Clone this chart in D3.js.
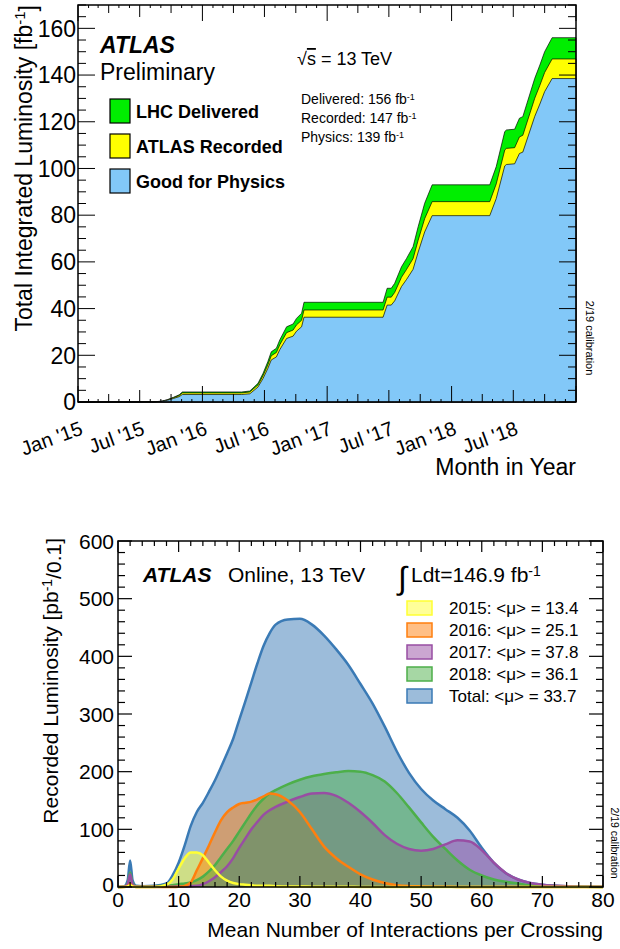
<!DOCTYPE html>
<html>
<head>
<meta charset="utf-8">
<script src="https://cdn.jsdelivr.net/npm/d3@7"></script>
<style>
  body { margin: 0; background: #fff; }
  svg { display: block; }
  text { font-family: "Liberation Sans", Arial, Helvetica, sans-serif; fill: #000; }
</style>
</head>
<body>
<svg id="chart" width="620" height="949"></svg>
<script>
// ---- top panel: cumulative luminosity vs date
const lumiDates = ['2015-01-01','2015-06-03','2015-08-15','2015-09-05','2015-09-20','2015-10-08','2015-10-25','2015-11-03',
  '2016-04-25','2016-05-19','2016-06-12','2016-06-27','2016-07-11','2016-07-21','2016-08-05','2016-08-15','2016-09-04','2016-09-23','2016-10-03','2016-10-18','2016-10-25',
  '2017-06-14','2017-06-26','2017-07-08','2017-07-18','2017-08-07','2017-08-22','2017-09-10','2017-09-25','2017-10-14','2017-11-05',
  '2018-04-23','2018-05-12','2018-06-06','2018-06-11','2018-07-05','2018-07-19','2018-07-29','2018-09-02','2018-09-17','2018-10-01','2018-10-23',
  '2019-01-01'];
const delivered = [0,0,0.1,0.4,1.0,2.0,3.1,4.3,
  4.3,4.7,8.0,12.3,17.3,21.5,23.0,26.6,32.2,33.4,35.8,38.0,42.7,
  42.7,48.7,48.7,50.8,57.9,61.5,66.5,75.1,85.1,93.0,
  93.0,100.8,115.8,116.5,116.8,121.5,122.2,138.6,144.3,150.0,156.0,
  156.0];
const recorded = [0,0,0.1,0.35,0.9,1.8,2.8,3.9,
  3.9,4.3,7.3,11.3,15.9,19.8,21.2,24.5,29.7,30.8,33.0,35.0,39.4,
  39.4,44.9,44.9,46.9,53.4,56.8,61.4,69.3,78.5,85.8,
  85.8,93.4,107.9,108.6,108.9,113.5,114.2,130.1,135.6,141.1,146.9,
  146.9];
const physics = [0,0,0.05,0.3,0.7,1.5,2.3,3.2,
  3.2,3.5,6.4,10.1,14.4,18.0,19.3,22.4,27.2,28.2,30.3,32.2,36.3,
  36.3,41.5,41.5,43.3,49.4,52.5,56.8,64.2,72.8,79.8,
  79.8,87.1,101.1,101.7,102.0,106.4,107.0,122.3,127.6,132.9,138.5,
  138.5];
const lumiLegend = ['LHC Delivered','ATLAS Recorded','Good for Physics'];
const lumiTotals = ['Delivered: 156','Recorded: 147','Physics: 139'];

// ---- bottom panel: pile-up distributions
const muBins = [0,1,1.6,2,2.4,3,4,6,8,
  9,10,11,12,13,14,15,16,17,18,19,20,21,22,23,24,25,26,
  28,30,32,34,36,38,40,42,44,46,48,50,52,54,56,58,60,62,64,66,68,70,74,80];
const muTotal = [0,1,12,46,12,2,1.5,2,6,
  20,42,72,106,130,146,165,185,208,232,257,290,322,355,388,418,440,455,
  464,465,455,436,412,385,352,318,278,235,198,170,150,135,120,98,68,42,24,13,7,4,1.5,0.5];
const mu2015 = [0,0,1,3,1,0,0,0,4,
  13,32,50,60,60,55,42,29,18,11,7,5,4,3,2,2,2,1.5,
  1,1,0.5,0.5,0.3,0.3,0.2,0.2,0.1,0.1,0,0,0,0,0,0,0,0,0,0,0,0,0,0];
const mu2016 = [0,0,1,5,1,0,0,0,0,
  0,0.5,2,8,29,50,72,95,116,130,138,144,146,148,152,157,162,161,
  150,130,100,70,50,35,22,13,7,3,1.5,1,0.5,0.3,0.2,0,0,0,0,0,0,0,0,0];
const mu2017 = [0,0.3,5,22,5,0.5,0.3,0.5,0.5,
  0.5,1,1,1.5,2,5,10,17,26,36,50,68,84,100,113,125,133,139,
  148,156,162,163,158,146,130,111,90,75,66,63,66,74,81,79,64,42,24,13,7,4,1.5,0.3];
const mu2018 = [0,0.5,6,25,6,1,1,1.5,2,
  3,5,6,8,12,18,27,38,52,66,80,96,112,128,142,153,162,168,
  178,186,192,196,199,201,200,194,183,163,138,112,87,66,46,30,20,13,9,6,3,2,1,0.2];
const muLegend = ['2015: <μ> = 13.4','2016: <μ> = 25.1','2017: <μ> = 37.8','2018: <μ> = 36.1','Total: <μ> = 33.7'];

let svg = d3.select('#chart');
let parseDate = d3.timeParse('%Y-%m-%d');

// =================== TOP PANEL ===================
let f1 = { left: 78, right: 576, top: 5, bottom: 402 };
let xT = d3.scaleTime()
  .domain([new Date(2015,0,1), new Date(2019,0,1)])
  .range([f1.left, f1.right]);
let yT = d3.scaleLinear().domain([0,170]).range([f1.bottom, f1.top]);

let lumiRows = lumiDates.map((d,i) => ({
  date: parseDate(d), del: delivered[i], rec: recorded[i], phys: physics[i]
}));

let layers = [
  { key: 'del', color: '#00ee00' },
  { key: 'rec', color: '#ffff00' },
  { key: 'phys', color: '#82c8f8' }
];
layers.forEach(l => {
  svg.append('path')
    .datum(lumiRows)
    .attr('d', d3.area()
      .x(d => xT(d.date))
      .y0(yT(0))
      .y1(d => yT(d[l.key])))
    .attr('fill', l.color)
    .attr('stroke', '#000')
    .attr('stroke-width', 0.8)
    .attr('stroke-opacity', 0.85);
});

// frame
svg.append('rect')
  .attr('x', f1.left).attr('y', f1.top)
  .attr('width', f1.right - f1.left).attr('height', f1.bottom - f1.top)
  .attr('fill', 'none').attr('stroke', '#000').attr('stroke-width', 1.5);

// x ticks (monthly)
let months = d3.timeMonth.range(new Date(2015,0,1), new Date(2019,0,2));
let tg = svg.append('g').attr('stroke', '#000').attr('stroke-width', 1);
months.forEach(m => {
  let mm = m.getMonth();
  let len = mm === 0 ? 16 : (mm === 6 ? 12 : (mm % 3 === 0 ? 8 : 3));
  let x = xT(m);
  tg.append('line').attr('x1', x).attr('x2', x).attr('y1', f1.bottom).attr('y2', f1.bottom - len);
  tg.append('line').attr('x1', x).attr('x2', x).attr('y1', f1.top).attr('y2', f1.top + len);
  if ((mm === 0 || mm === 6) && m < new Date(2019,0,1)) {
    svg.append('text')
      .attr('transform', `translate(${x + 6},434) rotate(-20)`)
      .attr('text-anchor', 'end')
      .style('font-size', '20px')
      .text(d3.timeFormat("%b '%y")(m));
  }
});

// y ticks
d3.range(0, 171, 5).forEach(v => {
  let len = v % 20 === 0 ? 17 : 8;
  let y = yT(v);
  tg.append('line').attr('x1', f1.left).attr('x2', f1.left + len).attr('y1', y).attr('y2', y);
  tg.append('line').attr('x1', f1.right).attr('x2', f1.right - len).attr('y1', y).attr('y2', y);
  if (v % 20 === 0) {
    svg.append('text')
      .attr('x', f1.left - 2).attr('y', y).attr('dy', '0.36em')
      .attr('text-anchor', 'end')
      .style('font-size', '23px')
      .text(v);
  }
});

// axis titles
let yt1 = svg.append('text')
  .attr('transform', `translate(32,${f1.top}) rotate(-90)`)
  .attr('text-anchor', 'end')
  .style('font-size', '23px');
yt1.append('tspan').text('Total Integrated Luminosity [fb');
yt1.append('tspan').attr('dy', '-0.45em').style('font-size', '15px').text('-1');
yt1.append('tspan').attr('dy', '0.45em').text(']');

svg.append('text')
  .attr('x', f1.right).attr('y', 475)
  .attr('text-anchor', 'end')
  .style('font-size', '23px')
  .text('Month in Year');

// labels
svg.append('text').attr('x', 100).attr('y', 53)
  .style('font-size', '23px').style('font-weight', 'bold').style('font-style', 'italic')
  .text('ATLAS');
svg.append('text').attr('x', 100).attr('y', 80)
  .style('font-size', '23px').text('Preliminary');

let sq = svg.append('text').attr('x', 297).attr('y', 65).style('font-size', '18px');
sq.append('tspan').text('√');
sq.append('tspan').style('text-decoration', 'overline').text('s');
sq.append('tspan').text(' = 13 TeV');

lumiTotals.forEach((t,i) => {
  let tx = svg.append('text').attr('x', 301).attr('y', 104 + i*19).style('font-size', '14px');
  tx.append('tspan').text(t + ' fb');
  tx.append('tspan').attr('dy', '-0.45em').style('font-size', '9px').text('-1');
});

lumiLegend.forEach((t,i) => {
  let y0 = 99 + i*35;
  svg.append('rect')
    .attr('x', 110).attr('y', y0).attr('width', 20).attr('height', 24)
    .attr('fill', layers[i].color).attr('stroke', '#000').attr('stroke-width', 1.2);
  svg.append('text')
    .attr('x', 136).attr('y', y0 + 19)
    .style('font-size', '18px').style('font-weight', 'bold')
    .text(t);
});

svg.append('text')
  .attr('transform', 'translate(586,338) rotate(90)')
  .attr('text-anchor', 'middle')
  .style('font-size', '11px')
  .text('2/19 calibration');

// =================== BOTTOM PANEL ===================
let f2 = { left: 118, right: 603, top: 541, bottom: 887 };
let xB = d3.scaleLinear().domain([0,80]).range([f2.left, f2.right]);
let yB = d3.scaleLinear().domain([0,600]).range([f2.bottom, f2.top]);

let series = [
  { vals: muTotal, color: '#3a7ab5' },
  { vals: mu2015, color: '#ffff33' },
  { vals: mu2016, color: '#ff7f0e' },
  { vals: mu2017, color: '#984ea3' },
  { vals: mu2018, color: '#4daf4a' }
];

let muArea = d3.area()
  .x(d => xB(d[0]))
  .y0(yB(0))
  .y1(d => yB(d[1]))
  .curve(d3.curveMonotoneX);
let muLine = d3.line()
  .x(d => xB(d[0]))
  .y(d => yB(d[1]))
  .curve(d3.curveMonotoneX);

series.forEach(s => {
  svg.append('path')
    .datum(muBins.map((m,i) => [m, s.vals[i]]))
    .attr('d', muArea)
    .attr('fill', s.color)
    .attr('fill-opacity', 0.5);
});
// outlines on top, drawn total, 2018, 2017, 2016, 2015
[0,4,3,2,1].forEach(k => {
  let s = series[k];
  svg.append('path')
    .datum(muBins.map((m,i) => [m, s.vals[i]]))
    .attr('d', muLine)
    .attr('fill', 'none')
    .attr('stroke', s.color)
    .attr('stroke-width', 2.5);
});

svg.append('rect')
  .attr('x', f2.left).attr('y', f2.top)
  .attr('width', f2.right - f2.left).attr('height', f2.bottom - f2.top)
  .attr('fill', 'none').attr('stroke', '#000').attr('stroke-width', 1.5);

let tb = svg.append('g').attr('stroke', '#000').attr('stroke-width', 1.2);
d3.range(0, 81, 2).forEach(v => {
  let len = v % 10 === 0 ? 11 : 5;
  let x = xB(v);
  tb.append('line').attr('x1', x).attr('x2', x).attr('y1', f2.bottom).attr('y2', f2.bottom - len);
  tb.append('line').attr('x1', x).attr('x2', x).attr('y1', f2.top).attr('y2', f2.top + len);
  if (v % 10 === 0) {
    svg.append('text')
      .attr('x', x).attr('y', 907)
      .attr('text-anchor', 'middle')
      .style('font-size', '21px')
      .text(v);
  }
});
d3.range(0, 601, 20).forEach(v => {
  let len = v % 100 === 0 ? 14 : 7;
  let y = yB(v);
  tb.append('line').attr('x1', f2.left).attr('x2', f2.left + len).attr('y1', y).attr('y2', y);
  tb.append('line').attr('x1', f2.right).attr('x2', f2.right - len).attr('y1', y).attr('y2', y);
  if (v % 100 === 0) {
    svg.append('text')
      .attr('x', f2.left - 4).attr('y', v === 0 ? y - 3 : y).attr('dy', '0.36em')
      .attr('text-anchor', 'end')
      .style('font-size', '21px')
      .text(v);
  }
});

let yt2 = svg.append('text')
  .attr('transform', `translate(58,538) rotate(-90)`)
  .attr('text-anchor', 'end')
  .style('font-size', '21px');
yt2.append('tspan').text('Recorded Luminosity [pb');
yt2.append('tspan').attr('dy', '-0.45em').style('font-size', '14px').text('-1');
yt2.append('tspan').attr('dy', '0.45em').text('/0.1]');

svg.append('text')
  .attr('x', f2.right).attr('y', 937)
  .attr('text-anchor', 'end')
  .style('font-size', '21px')
  .text('Mean Number of Interactions per Crossing');

svg.append('text').attr('x', 143).attr('y', 582)
  .style('font-size', '21px').style('font-weight', 'bold').style('font-style', 'italic')
  .text('ATLAS');
svg.append('text').attr('x', 228).attr('y', 582)
  .style('font-size', '21px').text('Online, 13 TeV');

svg.append('text').attr('x', 398).attr('y', 589)
  .style('font-size', '32px').text('∫');
let ld = svg.append('text').attr('x', 411).attr('y', 582).style('font-size', '21px');
ld.append('tspan').text('Ldt=146.9 fb');
ld.append('tspan').attr('dy', '-0.45em').style('font-size', '14px').text('-1');

[1,2,3,4,0].forEach((k,i) => {
  let s = series[k];
  let y0 = 601 + i*22;
  svg.append('rect')
    .attr('x', 407).attr('y', y0).attr('width', 25).attr('height', 14)
    .attr('fill', s.color).attr('fill-opacity', 0.5)
    .attr('stroke', s.color).attr('stroke-width', 1.5);
  svg.append('text')
    .attr('x', 449).attr('y', y0 + 12.5)
    .style('font-size', '17px')
    .text(muLegend[i]);
});

svg.append('text')
  .attr('transform', 'translate(611,843) rotate(90)')
  .attr('text-anchor', 'middle')
  .style('font-size', '10.5px')
  .text('2/19 calibration');
</script>
</body>
</html>
